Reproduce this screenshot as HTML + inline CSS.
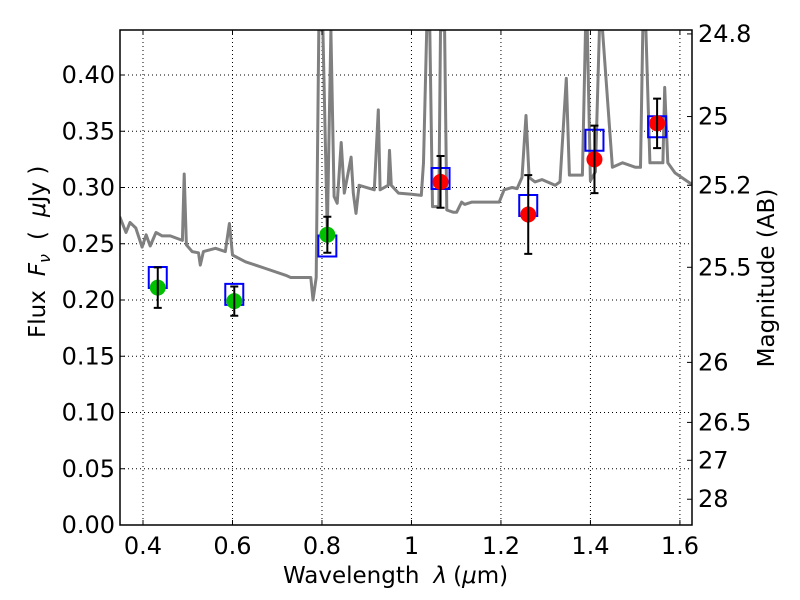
<!DOCTYPE html>
<html><head><meta charset="utf-8"><style>
html,body{margin:0;padding:0;background:#fff;}
svg{display:block;font-family:"DejaVu Sans","Liberation Sans",sans-serif;}
</style></head><body>
<svg id="chart" width="800" height="600" viewBox="0 0 800 600" xmlns="http://www.w3.org/2000/svg">
<rect width="800" height="600" fill="#fff"/>
<g id="grid"></g>
<g id="spec"></g>
<g id="pts"></g>
<g id="axes"></g>
</svg>
<script>
const specLam=[0.348,0.362,0.371,0.384,0.398,0.407,0.416,0.429,0.443,0.461,0.488,0.492,0.497,0.510,0.524,0.528,0.535,0.562,0.584,0.593,0.600,0.629,0.674,0.719,0.730,0.775,0.780,0.787,0.793,0.802,0.812,0.820,0.827,0.834,0.843,0.850,0.865,0.870,0.876,0.883,0.917,0.926,0.930,0.948,0.951,0.955,0.971,1.000,1.022,1.027,1.034,1.041,1.047,1.061,1.065,1.074,1.079,1.094,1.101,1.112,1.119,1.135,1.196,1.207,1.225,1.236,1.247,1.256,1.263,1.276,1.292,1.321,1.332,1.346,1.353,1.382,1.389,1.393,1.400,1.411,1.420,1.427,1.449,1.472,1.501,1.512,1.517,1.524,1.533,1.562,1.566,1.573,1.589,1.622,1.634];
const specFlux=[0.274,0.260,0.269,0.264,0.247,0.258,0.248,0.260,0.257,0.257,0.253,0.312,0.249,0.243,0.242,0.231,0.243,0.246,0.243,0.268,0.240,0.234,0.228,0.222,0.220,0.220,0.200,0.220,0.44,0.44,0.26,0.44,0.292,0.286,0.340,0.295,0.327,0.295,0.277,0.302,0.298,0.369,0.298,0.302,0.333,0.302,0.295,0.294,0.293,0.322,0.44,0.44,0.283,0.283,0.44,0.44,0.280,0.278,0.278,0.287,0.285,0.287,0.287,0.298,0.300,0.299,0.309,0.364,0.309,0.305,0.307,0.302,0.305,0.397,0.311,0.311,0.44,0.44,0.306,0.314,0.44,0.44,0.318,0.322,0.318,0.318,0.44,0.44,0.322,0.322,0.389,0.322,0.313,0.304,0.302];
const obsLam=[0.433,0.604,0.812,1.065,1.261,1.409,1.549];
const obsFlux=[0.211,0.199,0.258,0.305,0.276,0.325,0.357];
const obsErr=[0.018,0.013,0.016,0.023,0.035,0.030,0.022];
const modelFlux=[0.220,0.205,0.248,0.308,0.284,0.342,0.354];
const obsColor=["#00c000","#00c000","#00c000","#ff0000","#ff0000","#ff0000","#ff0000"];
const xTicks=[0.4,0.6,0.8,1.0,1.2,1.4,1.6];
const xTickLabels=["0.4","0.6","0.8","1","1.2","1.4","1.6"];
const yTicks=[0,0.05,0.10,0.15,0.20,0.25,0.30,0.35,0.40];
const yTickLabels=["0.00","0.05","0.10","0.15","0.20","0.25","0.30","0.35","0.40"];
const magTicks=[24.8,25,25.2,25.5,26,26.5,27,28];
const magTickLabels=["24.8","25","25.2","25.5","26","26.5","27","28"];

const L=120,R=692,T=30,B=525,XMIN=0.3486,XMAX=1.627,YMIN=0,YMAX=0.44;
const sx=v=>L+(v-XMIN)/(XMAX-XMIN)*(R-L);
const sy=v=>B-(v-YMIN)/(YMAX-YMIN)*(B-T);
const NS="http://www.w3.org/2000/svg";
function mk(tag,attrs,parent){const e=document.createElementNS(NS,tag);for(const k in attrs)e.setAttribute(k,attrs[k]);parent.appendChild(e);return e;}
function ts(parent,txt,attrs){const t=mk('tspan',attrs||{},parent);t.textContent=txt;return t;}
const grid=document.getElementById('grid'),spec=document.getElementById('spec'),pts=document.getElementById('pts'),axes=document.getElementById('axes');

xTicks.forEach((t,i)=>{
 const x=sx(t);
 const g=mk('line',{x1:x,x2:x,y1:T,y2:B,stroke:'#000','stroke-width':1,'stroke-dasharray':'1,3'},grid);
 
 mk('line',{x1:x,x2:x,y1:B,y2:B-5,stroke:'#000'},axes);
 mk('line',{x1:x,x2:x,y1:T,y2:T+5,stroke:'#000'},axes);
 const tx=mk('text',{x:x,y:B+29,'font-size':24,'text-anchor':'middle'},axes);
 tx.textContent=xTickLabels[i];
 
});
yTicks.forEach((t,i)=>{
 const y=sy(t);
 const g=mk('line',{x1:L,x2:R,y1:y,y2:y,stroke:'#000','stroke-width':1,'stroke-dasharray':'1,3'},grid);
 
 mk('line',{x1:L,x2:L+5,y1:y,y2:y,stroke:'#000'},axes);
 const tx=mk('text',{x:L-5,y:y+8,'font-size':24,'text-anchor':'end'},axes);
 tx.textContent=yTickLabels[i];
 
});
magTicks.forEach((m,i)=>{
 const f=Math.pow(10,(23.9-m)/2.5);const y=sy(f);
 mk('line',{x1:R,x2:R-5,y1:y,y2:y,stroke:'#000'},axes);
 const tx=mk('text',{x:R+6,y:y+8,'font-size':24},axes);
 tx.textContent=magTickLabels[i];
 
});

const d=specLam.map((l,i)=>(i?'L':'M')+sx(l).toFixed(1)+','+sy(Math.min(specFlux[i],YMAX+0.01)).toFixed(1)).join(' ');
const cp=mk('clipPath',{id:'clip'},spec);mk('rect',{x:L,y:T,width:R-L,height:B-T},cp);
const p=mk('path',{d:d,fill:'none',stroke:'#808080','stroke-width':3,'stroke-linejoin':'round','clip-path':'url(#clip)'},spec);


obsLam.forEach((l,i)=>{
 const x=sx(l);
 const b=mk('rect',{x:x-9,y:sy(modelFlux[i])-10.5,width:18,height:21,fill:'none',stroke:'#0000ff','stroke-width':2},pts);
 
 const c=mk('circle',{cx:x,cy:sy(obsFlux[i]),r:8,fill:obsColor[i]},pts);
 
 const y1=sy(obsFlux[i]+obsErr[i]),y2=sy(obsFlux[i]-obsErr[i]);
 const e=mk('path',{d:`M${x},${y1}L${x},${y2}M${x-4},${y1}L${x+4},${y1}M${x-4},${y2}L${x+4},${y2}`,stroke:'#000','stroke-width':2,fill:'none'},pts);
 
});

const fr=mk('rect',{x:L,y:T,width:R-L,height:B-T,fill:'none',stroke:'#000','stroke-width':1.5},axes);


const xl=mk('text',{x:283,y:583,'font-size':23},axes);
ts(xl,'Wavelength');ts(xl,'λ',{'font-style':'italic',dx:14});ts(xl,'(',{dx:6});ts(xl,'μ',{'font-style':'italic'});ts(xl,'m)');


const yl=mk('text',{x:0,y:0,'font-size':23,transform:'translate(45,338) rotate(-90)'},axes);
ts(yl,'Flux');ts(yl,'F',{'font-style':'italic',dx:14});ts(yl,'ν',{'font-style':'italic','font-size':16,dy:5});
ts(yl,'(',{dx:14,dy:-5});ts(yl,'μ',{'font-style':'italic',dx:14});ts(yl,'Jy )');


const ml=mk('text',{x:0,y:0,'font-size':23,'text-anchor':'middle',transform:'translate(774,278) rotate(-90)'},axes);
ml.textContent='Magnitude (AB)';

</script>
</body></html>
